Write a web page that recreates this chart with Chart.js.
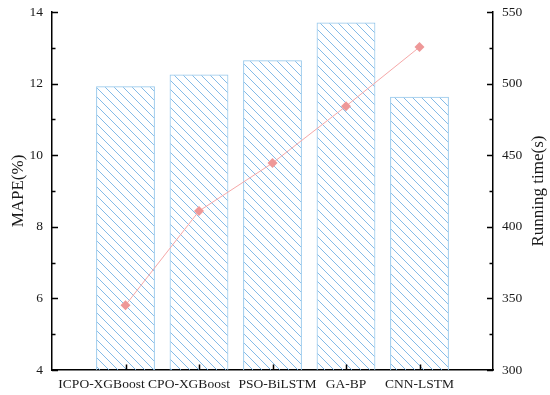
<!DOCTYPE html>
<html>
<head>
<meta charset="utf-8">
<script src="https://cdn.jsdelivr.net/npm/chart.js@4.4.1/dist/chart.umd.min.js"></script>
<style>
  html, body { margin: 0; padding: 0; background: #fff; }
  #wrap { width: 550px; height: 395px; }
</style>
</head>
<body>
<div id="wrap"><canvas id="chart" width="550" height="395"></canvas></div>
<script>
// data
const categories = ["ICPO-XGBoost", "CPO-XGBoost", "PSO-BiLSTM", "GA-BP", "CNN-LSTM"];
const runningTime = [498.2, 506.3, 516.3, 542.6, 490.9];   // bars, right axis
const mapeValues = [5.81, 8.44, 9.78, 11.37, 13.02];       // line, left axis
const mapeTicks = [4, 6, 8, 10, 12, 14];
const timeTicks = [300, 350, 400, 450, 500, 550];

const FONT = "'Liberation Serif', 'Times New Roman', serif";

// hatch pattern for the bars ("\" lines)
function makeHatch() {
    const s = 9;
    const c = document.createElement("canvas");
    c.width = s; c.height = s;
    const g = c.getContext("2d");
    g.strokeStyle = "rgba(110, 175, 228, 0.85)";
    g.lineWidth = 1;
    g.beginPath();
    for (let k = -1; k <= 1; k++) {
        g.moveTo(k * s, 0);
        g.lineTo(k * s + s, s);
    }
    g.stroke();
    return g.createPattern(c, "repeat");
}

// padded category axis: empty slot at each end
const labels = ["", ...categories, ""];
const barData = [null, ...runningTime, null];
const lineData = [null, ...mapeValues, null];

// small nudges of the category labels, as in the reference
const labelShift = [0, -24, -10, 5, 0, 0, 0];

const axisDecor = {
    id: "axisDecor",
    afterDatasetsDraw(chart) {
        const ctx = chart.ctx;
        const area = chart.chartArea;
        const x = chart.scales.x, y = chart.scales.y, y1 = chart.scales.y1;
        ctx.save();
        ctx.strokeStyle = "#000";
        ctx.lineWidth = 1.5;
        ctx.beginPath();
        // left axis ticks (inward)
        y.ticks.forEach(t => {
            const py = Math.round(y.getPixelForValue(t.value)) + 0.5;
            const len = t.value % 2 === 0 ? 6 : 3.5;
            ctx.moveTo(area.left, py);
            ctx.lineTo(area.left + len, py);
        });
        // right axis ticks (inward)
        y1.ticks.forEach(t => {
            const py = Math.round(y1.getPixelForValue(t.value)) + 0.5;
            const len = t.value % 50 === 0 ? 6 : 3.5;
            ctx.moveTo(area.right, py);
            ctx.lineTo(area.right - len, py);
        });
        // bottom ticks at categories
        for (let i = 1; i <= categories.length; i++) {
            const px = Math.round(x.getPixelForValue(i)) + 0.5;
            ctx.moveTo(px, area.bottom);
            ctx.lineTo(px, area.bottom - 5.5);
        }
        ctx.stroke();

        // category labels
        ctx.fillStyle = "#1a1a1a";
        ctx.font = "13.5px " + FONT;
        ctx.textAlign = "center";
        ctx.textBaseline = "alphabetic";
        for (let i = 1; i <= categories.length; i++) {
            ctx.fillText(labels[i], x.getPixelForValue(i) + labelShift[i], area.bottom + 18);
        }

        // axis titles, both read bottom to top
        const midY = (area.top + area.bottom) / 2;
        ctx.font = "17px " + FONT;
        ctx.textBaseline = "middle";
        ctx.save();
        ctx.translate(19, midY);
        ctx.rotate(-Math.PI / 2);
        ctx.fillText("MAPE(%)", 0, 0);
        ctx.restore();
        ctx.save();
        ctx.translate(chart.width - 11, midY);
        ctx.rotate(-Math.PI / 2);
        ctx.fillText("Running time(s)", 0, 0);
        ctx.restore();
        ctx.restore();
    }
};

const whiteBg = {
    id: "whiteBg",
    beforeDraw(chart) {
        const ctx = chart.ctx;
        ctx.save();
        ctx.fillStyle = "#fff";
        ctx.fillRect(0, 0, chart.width, chart.height);
        ctx.restore();
    }
};

function fixVertical(width) {
    return s => {
        s.width = width;
        s.paddingTop = 0;
        s.paddingBottom = 0;
    };
}

const ctx = document.getElementById("chart").getContext("2d");
new Chart(ctx, {
    data: {
        labels: labels,
        datasets: [
            {
                type: "line",
                label: "MAPE",
                data: lineData,
                yAxisID: "y",
                order: 0,
                borderColor: "rgba(246, 168, 168, 1)",
                borderWidth: 1,
                pointStyle: "rectRot",
                pointRadius: 5,
                pointBackgroundColor: "rgba(238, 152, 152, 1)",
                pointBorderColor: "rgba(238, 152, 152, 1)",
                pointBorderWidth: 0,
                spanGaps: false,
                tension: 0
            },
            {
                type: "bar",
                label: "Running time",
                data: barData,
                yAxisID: "y1",
                order: 1,
                backgroundColor: makeHatch(),
                borderColor: "rgba(150, 200, 236, 1)",
                borderWidth: 1,
                categoryPercentage: 1.0,
                barPercentage: 0.8
            }
        ]
    },
    options: {
        responsive: false,
        animation: false,
        devicePixelRatio: 1,
        layout: { padding: { top: 12, left: 0, right: 0, bottom: 0 } },
        plugins: {
            legend: { display: false },
            tooltip: { enabled: false }
        },
        scales: {
            x: {
                type: "category",
                offset: false,
                grid: { display: false, drawTicks: false },
                border: { display: true, color: "#000", width: 1.5 },
                ticks: { display: false },
                afterFit: s => {
                    s.height = 25;
                    s.paddingLeft = 0;
                    s.paddingRight = 0;
                }
            },
            y: {
                position: "left",
                min: 4,
                max: 14,
                grid: { display: false, drawTicks: false },
                border: { display: true, color: "#000", width: 1.5 },
                ticks: {
                    stepSize: 1,
                    padding: 9,
                    color: "#1a1a1a",
                    font: { family: FONT, size: 13.5 },
                    callback: v => mapeTicks.includes(v) ? v : ""
                },
                afterFit: fixVertical(52)
            },
            y1: {
                position: "right",
                min: 300,
                max: 550,
                grid: { display: false, drawTicks: false },
                border: { display: true, color: "#000", width: 1.5 },
                ticks: {
                    stepSize: 25,
                    padding: 9,
                    color: "#1a1a1a",
                    font: { family: FONT, size: 13.5 },
                    callback: v => timeTicks.includes(v) ? v : ""
                },
                afterFit: fixVertical(57)
            }
        }
    },
    plugins: [whiteBg, axisDecor]
});
</script>
</body>
</html>
